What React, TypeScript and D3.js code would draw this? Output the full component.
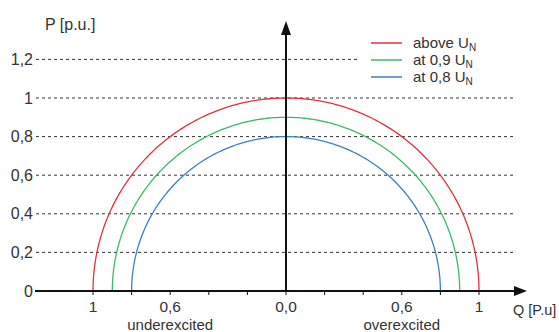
import React from "react";
import * as d3 from "d3";

const radii = [1, 0.9, 0.8];
const seriesNames = ["above U", "at 0,9 U", "at 0,8 U"];
const seriesColors = ["#e5303f", "#3dba67", "#3a82c4"];
const yTicks = [0, 0.2, 0.4, 0.6, 0.8, 1, 1.2];
const yTickLabels = ["0", "0,2", "0,4", "0,6", "0,8", "1", "1,2"];
const xTicks = [-1, -0.8, -0.6, -0.4, -0.2, 0, 0.2, 0.4, 0.6, 0.8, 1];
const xLabelVals = [-1, -0.6, 0, 0.6, 1];
const xLabelTexts = ["1", "0,6", "0,0", "0,6", "1"];

const W = 559, H = 332;
const font = "Liberation Sans, Arial, sans-serif";
const txt = "#333";

export default function App() {
  const x = d3.scaleLinear().domain([-1, 1]).range([93, 479]);
  const y = d3.scaleLinear().domain([0, 1]).range([291, 98]);
  const arc = (r: number) => {
    const pts: [number, number][] = d3.range(0, 181).map((i) => {
      const a = (Math.PI * i) / 180;
      return [-r * Math.cos(a), r * Math.sin(a)];
    });
    return d3.line<[number, number]>().x((d) => x(d[0])).y((d) => y(d[1]))(pts) || "";
  };
  return (
    <svg width={W} height={H} style={{ position: "absolute", left: 0, top: 0, background: "#fff" }} fontFamily={font}>
      {/* grid lines */}
      {yTicks.filter((v) => v > 0).map((v) => (
        <line key={v} x1={36} x2={v > 1.1 ? 360 : 516} y1={y(v)} y2={y(v)} stroke="#333" strokeWidth={1} strokeDasharray="3,3" />
      ))}
      {/* y tick labels */}
      {yTicks.map((v, i) => (
        <text key={v} x={33} y={y(v)} dy="0.35em" textAnchor="end" fontSize={16} fill={txt}>{yTickLabels[i]}</text>
      ))}
      {/* arcs */}
      {radii.map((r, i) => (
        <path key={r} d={arc(r)} fill="none" stroke={seriesColors[i]} strokeWidth={1.3} />
      ))}
      {/* x axis */}
      <line x1={35} x2={516} y1={y(0)} y2={y(0)} stroke="#111" strokeWidth={2} />
      <path d={`M${527},${y(0)} L${514},${y(0) - 5} L${514},${y(0) + 5} Z`} fill="#111" />
      {xTicks.map((v) => (
        <line key={v} x1={x(v)} x2={x(v)} y1={y(0)} y2={y(0) + 4} stroke="#111" strokeWidth={1} />
      ))}
      {xLabelVals.map((v, i) => (
        <text key={i} x={x(v)} y={312} textAnchor="middle" fontSize={15.5} fill={txt}>{xLabelTexts[i]}</text>
      ))}
      <text x={x(-0.6)} y={330} textAnchor="middle" fontSize={15} fill={txt}>underexcited</text>
      <text x={x(0.6)} y={330} textAnchor="middle" fontSize={15} fill={txt}>overexcited</text>
      <text x={513} y={310} dy="0.35em" fontSize={14.5} fill={txt}>Q [P.u]</text>
      {/* y axis */}
      <line x1={x(0)} x2={x(0)} y1={y(0)} y2={34} stroke="#111" strokeWidth={2} />
      <path d={`M${x(0)},${21} L${x(0) - 5},${35} L${x(0) + 5},${35} Z`} fill="#111" />
      <text x={45} y={24} dy="0.35em" fontSize={16} fill={txt}>P [p.u.]</text>
      {/* legend */}
      {seriesNames.map((n, i) => (
        <g key={n} transform={`translate(0, ${43 + i * 17})`}>
          <line x1={371} x2={402} y1={0} y2={0} stroke={seriesColors[i]} strokeWidth={1.5} />
          <text x={413} y={0} dy="0.35em" fontSize={15} fill={txt}>
            {n}
            <tspan fontSize={10} dy="0.3em">N</tspan>
          </text>
        </g>
      ))}
    </svg>
  );
}
